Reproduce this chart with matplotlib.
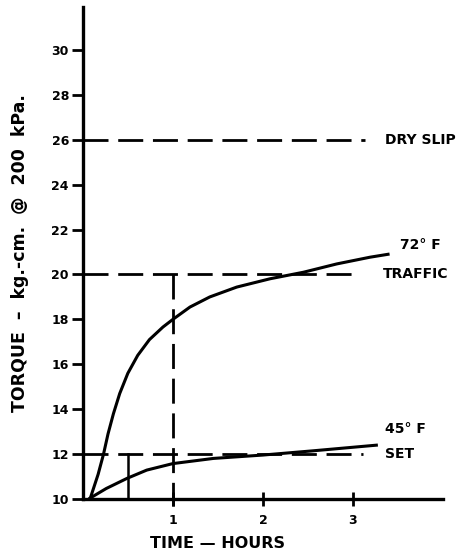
import numpy as np
import matplotlib.pyplot as plt

# Torque build-up with time at two temperatures
t_72 = [0.08, 0.17, 0.23, 0.28, 0.34, 0.41, 0.50, 0.61, 0.74, 0.89, 1.0,
        1.19, 1.41, 1.71, 2.08, 2.45, 2.82, 3.19, 3.39]
torque_72 = [10.0, 11.1, 12.0, 12.9, 13.8, 14.7, 15.6, 16.4, 17.1, 17.66, 18.0,
             18.55, 19.0, 19.44, 19.81, 20.1, 20.47, 20.77, 20.9]

t_45 = [0.08, 0.26, 0.49, 0.71, 1.0, 1.45, 2.0, 2.56, 3.26]
torque_45 = [10.04, 10.47, 10.92, 11.29, 11.58, 11.81, 11.96, 12.15, 12.4]

# reference torque levels and where their dashed lines stop
levels = [26.0, 20.0, 12.0]
level_ends = [3.13, 3.08, 3.11]
level_names = ['DRY SLIP', 'TRAFFIC', 'SET']

x_ticks = [1, 2, 3]
y_ticks = [10, 12, 14, 16, 18, 20, 22, 24, 26, 28, 30]

fig = plt.figure(figsize=(4.6, 5.57), dpi=100)
ax = fig.add_axes([0.180, 0.104, 0.783, 0.883])

dash = (0, (9, 3.5))
for lvl, end in zip(levels, level_ends):
    ax.plot([0, end], [lvl, lvl], color='black', lw=2, linestyle=dash)

# 1 hour marker down from the traffic level
ax.plot([1, 1], [20, 9.7], color='black', lw=2, linestyle=dash, clip_on=False)
# short set-time marker
ax.plot([0.5, 0.5], [10, 12], color='black', lw=1.8)

ax.plot(t_72, torque_72, color='black', lw=2.2, solid_joinstyle='round')
ax.plot(t_45, torque_45, color='black', lw=2.2, solid_joinstyle='round')

lab = dict(fontsize=10, fontweight='bold', va='center', ha='left')
ax.text(3.36, 26.0, level_names[0], **lab)
ax.text(3.33, 20.0, level_names[1], **lab)
ax.text(3.36, 12.0, level_names[2], **lab)
ax.text(3.52, 21.3, '72° F', **lab)
ax.text(3.36, 13.1, '45° F', **lab)

ax.set_xlim(0, 4.0)
ax.set_ylim(10, 31.9)
ax.set_xticks(x_ticks)
ax.set_yticks(y_ticks)
ax.set_xticklabels([str(v) for v in x_ticks], fontsize=9, fontweight='bold')
ax.set_yticklabels([str(v) for v in y_ticks], fontsize=9, fontweight='bold')
ax.tick_params(axis='y', direction='out', length=8, width=2, pad=2)
ax.tick_params(axis='x', direction='inout', length=10, width=2, pad=6)

for s in ['top', 'right']:
    ax.spines[s].set_visible(False)
for s in ['left', 'bottom']:
    ax.spines[s].set_linewidth(2.4)

ax.set_xlabel('TIME — HOURS', fontsize=11.5, fontweight='bold')
ax.xaxis.set_label_coords(0.375, -0.075)
ax.set_ylabel('TORQUE  –  kg.-cm.  @  200  kPa.', fontsize=12.5,
              fontweight='bold')
ax.yaxis.set_label_coords(-0.15, 0.50)

fig.savefig('out.png', dpi=100)
